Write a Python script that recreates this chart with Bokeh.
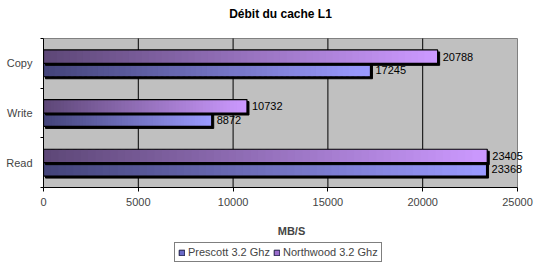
from bokeh.plotting import figure
from bokeh.layouts import column
from bokeh.models import (Range1d, FixedTicker, ColumnDataSource, Legend, LegendItem)
from bokeh.core.properties import value
from bokeh.embed import file_html
from bokeh.resources import INLINE

# ---- data ----
categories = ["Copy", "Write", "Read"]          # top to bottom
series_names = ["Prescott 3.2 Ghz", "Northwood 3.2 Ghz"]
prescott = [17245, 8872, 23368]
northwood = [20788, 10732, 23405]
x_ticks = [0, 5000, 10000, 15000, 20000, 25000]
chart_title = "Débit du cache L1"
x_title = "MB/S"

FONT = "Liberation Sans"
W, H = 539, 271
H1 = 240                               # main figure height; legend strip below
PL, PR, PT, PB = 43, 517, 38, 187      # plot-area pixel box
XMAX = 25000
n = len(categories)

# frame spans from PL to right edge and from top edge to PB, so that
# texts outside the gray plot area are not clipped
x_end = XMAX * (W - PL) / (PR - PL)
y_end = n * PB / (PB - PT)

p = figure(width=W, height=H1, output_backend="svg", toolbar_location=None,
           x_range=Range1d(0, x_end), y_range=Range1d(0, y_end),
           min_border_left=PL, min_border_right=0, min_border_top=0,
           min_border_bottom=H1 - PB,
           background_fill_color="white", border_fill_color="white")
p.outline_line_color = None
p.grid.visible = False

# gray plot area with its border
p.quad(left=[0], right=[XMAX], bottom=[0], top=[n],
       fill_color="#c0c0c0", line_color="#808080", line_width=1)
# vertical grid lines from tick values
p.segment(x0=x_ticks[1:-1], x1=x_ticks[1:-1], y0=[0] * (len(x_ticks) - 2),
          y1=[n] * (len(x_ticks) - 2), line_color="black", line_width=1)

# axes
p.xaxis.bounds = (0, XMAX)
p.xaxis.ticker = FixedTicker(ticks=x_ticks)
p.xaxis.major_tick_out = 4
p.xaxis.major_tick_in = 0
p.xaxis.minor_tick_out = 0
p.xaxis.minor_tick_in = 0
p.xaxis.axis_line_color = "black"
p.xaxis.major_label_text_font = FONT
p.xaxis.major_label_text_font_size = "11px"
p.xaxis.major_label_standoff = 6
p.xaxis.axis_label = x_title
p.xaxis.axis_label_text_font = FONT
p.xaxis.axis_label_text_font_size = "11px"
p.xaxis.axis_label_text_font_style = "bold"
p.xaxis.axis_label_standoff = 16

centers = [n - 0.5 - i for i in range(n)]
p.yaxis.bounds = (0, n)
p.yaxis.ticker = FixedTicker(ticks=centers, minor_ticks=list(range(n + 1)))
p.yaxis.major_label_overrides = {c: categories[i] for i, c in enumerate(centers)}
p.yaxis.major_tick_out = 0
p.yaxis.major_tick_in = 0
p.yaxis.minor_tick_out = 3
p.yaxis.minor_tick_in = 0
p.yaxis.axis_line_color = "black"
p.yaxis.major_label_text_font = FONT
p.yaxis.major_label_text_font_size = "11px"
p.yaxis.major_label_standoff = 8

# ---- bars with horizontal gradient ----
BH = 0.27
NSEG = 60
px_x = XMAX / (PR - PL)
px_y = n / (PB - PT)
dx, dy = 2 * px_x, 2 * px_y

def hexmix(c1, c2, t):
    a = [int(c1[i:i + 2], 16) for i in (1, 3, 5)]
    b = [int(c2[i:i + 2], 16) for i in (1, 3, 5)]
    return "#%02x%02x%02x" % tuple(round(a[k] + (b[k] - a[k]) * t) for k in range(3))

styles = [
    (prescott, -1, "#44447a", "#9a9aff", "#6a6ac8"),   # lower bar in each group
    (northwood, 1, "#5e4878", "#cc99ff", "#9a6ccc"),   # upper bar
]
bar_boxes = []
for vals, side, dark, light, legcol in styles:
    ys0, ys1 = [], []
    for i, v in enumerate(vals):
        c = centers[i]
        y0, y1 = (c, c + BH) if side > 0 else (c - BH, c)
        ys0.append(y0); ys1.append(y1)
    bar_boxes.append((vals, ys0, ys1))
    # shadow
    p.quad(left=[dx] * n, right=[v + dx for v in vals],
           bottom=[y - dy for y in ys0], top=[y - dy for y in ys1],
           fill_color="black", line_color="black")
    # gradient segments
    lefts, rights, bots, tops, cols = [], [], [], [], []
    for i, v in enumerate(vals):
        for k in range(NSEG):
            lefts.append(v * k / NSEG)
            rights.append(min(v, v * (k + 1.5) / NSEG))
            bots.append(ys0[i]); tops.append(ys1[i])
            cols.append(hexmix(dark, light, k / (NSEG - 1)))
    p.quad(left=lefts, right=rights, bottom=bots, top=tops, fill_color=cols, line_color=None)
    # outline
    p.quad(left=[0] * n, right=vals, bottom=ys0, top=ys1,
           fill_color=None, line_color="black", line_width=1.2)
    # value labels
    src = ColumnDataSource(dict(x=vals, y=[(a + b) / 2 for a, b in zip(ys0, ys1)],
                                t=[str(v) for v in vals]))
    p.text(x="x", y="y", text="t", source=src, x_offset=5,
           text_baseline="middle", text_align="left",
           text_font=value(FONT), text_font_size=value("11px"), text_color="black")

# title
p.text(x=[XMAX / 2], y=[n + (PT - 13) * px_y], text=[chart_title],
       text_align="center", text_baseline="middle", text_font=value(FONT),
       text_font_size=value("12px"), text_font_style="bold", text_color="black")

# ---- legend strip ----
H2 = H - H1
lg = figure(width=W, height=H2, output_backend="svg", toolbar_location=None,
            x_range=Range1d(0, x_end), y_range=Range1d(0, y_end),
            x_axis_type=None, y_axis_type=None,
            min_border_left=PL, min_border_right=0, min_border_top=0, min_border_bottom=0,
            background_fill_color="white", border_fill_color="white")
lg.outline_line_color = None
lg.grid.visible = False
proxies = []
for (vals, ys0, ys1), st in zip(bar_boxes, styles):
    r = lg.quad(left=[0] * n, right=vals, bottom=ys0, top=ys1,
                fill_color=st[4], line_color="#1a1a40", visible=False)
    proxies.append(r)
legend = Legend(items=[LegendItem(label=series_names[0], renderers=[proxies[0]]),
                       LegendItem(label=series_names[1], renderers=[proxies[1]])],
                orientation="horizontal", location=(174 - PL, 9),
                glyph_width=7, glyph_height=7, label_text_font=FONT,
                label_text_font_size="11px", label_standoff=3, spacing=3,
                padding=3, margin=0, border_line_color="black", border_line_width=1,
                background_fill_color="white", background_fill_alpha=1,
                inactive_fill_alpha=0, label_height=12)
lg.add_layout(legend, "center")

layout = column(p, lg, spacing=0)
open("out.html", "w").write(file_html(layout, INLINE))
